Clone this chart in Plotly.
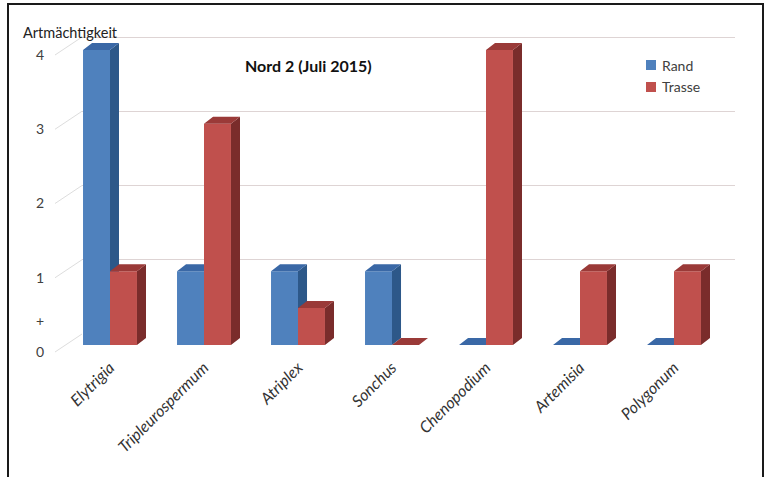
import plotly.graph_objects as go

# ---------------- data ----------------
species = ["Elytrigia", "Tripleurospermum", "Atriplex", "Sonchus",
           "Chenopodium", "Artemisia", "Polygonum"]
rand = [4, 1, 1, 1, 0, 0, 0]
trasse = [1, 3, 0.5, 0, 4, 1, 1]
y_tick_vals = [0, 0.42, 1, 2, 3, 4]
y_tick_text = ["0", "+", "1", "2", "3", "4"]
grid_vals = [0, 1, 2, 3, 4]
series_names = ["Rand", "Trasse"]
title_text = "Nord 2 (Juli 2015)"
y_title = "Artmächtigkeit"

# ---------------- styling helpers ----------------
W, H = 765, 477
FONT = "Lato"


def px_x(p):
    return p / W


def px_y(p):
    return 1 - p / H


BAR_W = 0.287   # bar width in category units
DX = 0.096      # 3D depth offset (x, category units)
DY = 0.095      # 3D depth offset (y, value units)
YMAX = 4.2

BLUE = dict(front="#4F81BD", side="#2D5889", top="#3A68A6")
RED = dict(front="#C0504D", side="#7A2C2B", top="#9A3A38")


def faces(values, offset):
    sx, sy, tx, ty = [], [], [], []
    for i, v in enumerate(values):
        x0 = i + offset
        x1 = x0 + BAR_W
        sx += [x1, x1 + DX, x1 + DX, x1, x1, None]
        sy += [0, DY, v + DY, v, 0, None]
        tx += [x0, x0 + DX, x1 + DX, x1, x0, None]
        ty += [v, v + DY, v + DY, v, v, None]
    return sx, sy, tx, ty


xs = list(range(len(species)))
fig = go.Figure()

# grid subplot (back wall)
fig.add_trace(go.Scatter(x=[None], y=[None], xaxis="x", yaxis="y",
                         showlegend=False, hoverinfo="skip"))

# Rand series (x2/y2)
sx, sy, tx, ty = faces(rand, -BAR_W)
fig.add_trace(go.Scatter(x=sx, y=sy, fill="toself", fillcolor=BLUE["side"],
                         line=dict(width=0), mode="lines", showlegend=False,
                         hoverinfo="skip", xaxis="x2", yaxis="y2"))
fig.add_trace(go.Scatter(x=tx, y=ty, fill="toself", fillcolor=BLUE["top"],
                         line=dict(width=0), mode="lines", showlegend=False,
                         hoverinfo="skip", xaxis="x2", yaxis="y2"))
fig.add_trace(go.Bar(x=xs, y=rand, name=series_names[0], width=BAR_W,
                     offset=-BAR_W, marker=dict(color=BLUE["front"], line=dict(width=0)),
                     xaxis="x2", yaxis="y2", showlegend=False))

# Trasse series (x3/y3 overlaying)
sx, sy, tx, ty = faces(trasse, 0)
fig.add_trace(go.Scatter(x=sx, y=sy, fill="toself", fillcolor=RED["side"],
                         line=dict(width=0), mode="lines", showlegend=False,
                         hoverinfo="skip", xaxis="x3", yaxis="y3"))
fig.add_trace(go.Scatter(x=tx, y=ty, fill="toself", fillcolor=RED["top"],
                         line=dict(width=0), mode="lines", showlegend=False,
                         hoverinfo="skip", xaxis="x3", yaxis="y3"))
fig.add_trace(go.Bar(x=xs, y=trasse, name=series_names[1], width=BAR_W,
                     offset=0, marker=dict(color=RED["front"], line=dict(width=0)),
                     xaxis="x3", yaxis="y3", showlegend=False))

# label subplot
fig.add_trace(go.Scatter(x=[None], y=[None], xaxis="x4", yaxis="y4",
                         showlegend=False, hoverinfo="skip"))

bar_xdom = [px_x(63), px_x(721)]
bar_ydom = [px_y(345), px_y(345 - YMAX * 73.75)]
grid_xdom = [px_x(82), px_x(735)]
grid_ydom = [px_y(334), px_y(334 - YMAX * 74.25)]
lab_ydom = [px_y(352), px_y(352 - YMAX * 74.25)]

hidden = dict(showgrid=False, zeroline=False, showline=False, showticklabels=False,
              ticks="", automargin=False)

fig.update_layout(
    width=W, height=H,
    margin=dict(l=0, r=0, t=0, b=0, pad=0, autoexpand=False),
    paper_bgcolor="white", plot_bgcolor="rgba(0,0,0,0)",
    font=dict(family=FONT, color="#404040"),
    xaxis=dict(domain=grid_xdom, range=[0, 1], anchor="y", **hidden),
    yaxis=dict(domain=grid_ydom, range=[0, YMAX], anchor="x", tickvals=grid_vals,
               showgrid=True, gridcolor="#DED4D4", gridwidth=1, zeroline=False,
               showticklabels=False, ticks="", showline=False, automargin=False),
    xaxis2=dict(domain=bar_xdom, range=[-0.5, 6.5], anchor="y2",
                tickvals=xs, ticktext=[f"<i>{s}</i>" for s in species],
                tickangle=-45, tickfont=dict(size=16, color="#333333", family=FONT),
                showgrid=False, zeroline=False, showline=False,
                ticks="outside", ticklen=6, tickcolor="rgba(0,0,0,0)", automargin=False),
    yaxis2=dict(domain=bar_ydom, range=[0, YMAX], anchor="x2", **hidden),
    xaxis3=dict(overlaying="x2", range=[-0.5, 6.5], anchor="y3", **hidden),
    yaxis3=dict(overlaying="y2", range=[0, YMAX], anchor="x3", **hidden),
    xaxis4=dict(domain=[px_x(45), px_x(700)], range=[0, 1], anchor="y4", **hidden),
    yaxis4=dict(domain=lab_ydom, range=[0, YMAX], anchor="x4", tickvals=y_tick_vals,
                ticktext=y_tick_text, tickfont=dict(size=14, color="#404040", family=FONT),
                showgrid=False, zeroline=False, showline=False, ticks="", automargin=False),
    showlegend=False,
)

fig.add_annotation(text=f"<b>{title_text}</b>", x=px_x(308), y=px_y(66),
                   xref="paper", yref="paper", xanchor="center", yanchor="middle",
                   showarrow=False, font=dict(size=16, color="#111111", family=FONT))
fig.add_annotation(text=y_title, x=px_x(21), y=px_y(33), xref="paper", yref="paper",
                   xanchor="left", yanchor="middle", showarrow=False,
                   font=dict(size=14.5, color="#222222", family=FONT))

# legend (manual, to match swatch/text spacing)
legend_colors = [BLUE["front"], RED["front"]]
for j, (name, col) in enumerate(zip(series_names, legend_colors)):
    yc = 65 + 22 * j
    fig.add_shape(type="rect", xref="paper", yref="paper",
                  x0=px_x(646), x1=px_x(656), y0=px_y(yc + 5), y1=px_y(yc - 5),
                  fillcolor=col, line=dict(width=0))
    fig.add_annotation(text=name, x=px_x(660), y=px_y(yc), xref="paper", yref="paper",
                       xanchor="left", yanchor="middle", showarrow=False,
                       font=dict(size=14, color="#404040", family=FONT))

# floor/side-wall diagonals connecting labels to back wall
for k in grid_vals:
    fig.add_shape(type="line", xref="paper", yref="paper",
                  x0=px_x(55), y0=px_y(352 - k * 74.25),
                  x1=px_x(82), y1=px_y(334 - k * 74.25),
                  line=dict(color="#DDDDDD", width=1))

# outer frame
fig.add_shape(type="rect", xref="paper", yref="paper",
              x0=px_x(8), x1=px_x(763), y0=-0.1, y1=px_y(4),
              line=dict(color="#1A1A1A", width=2), fillcolor="rgba(0,0,0,0)")

fig.write_html("out.html")
